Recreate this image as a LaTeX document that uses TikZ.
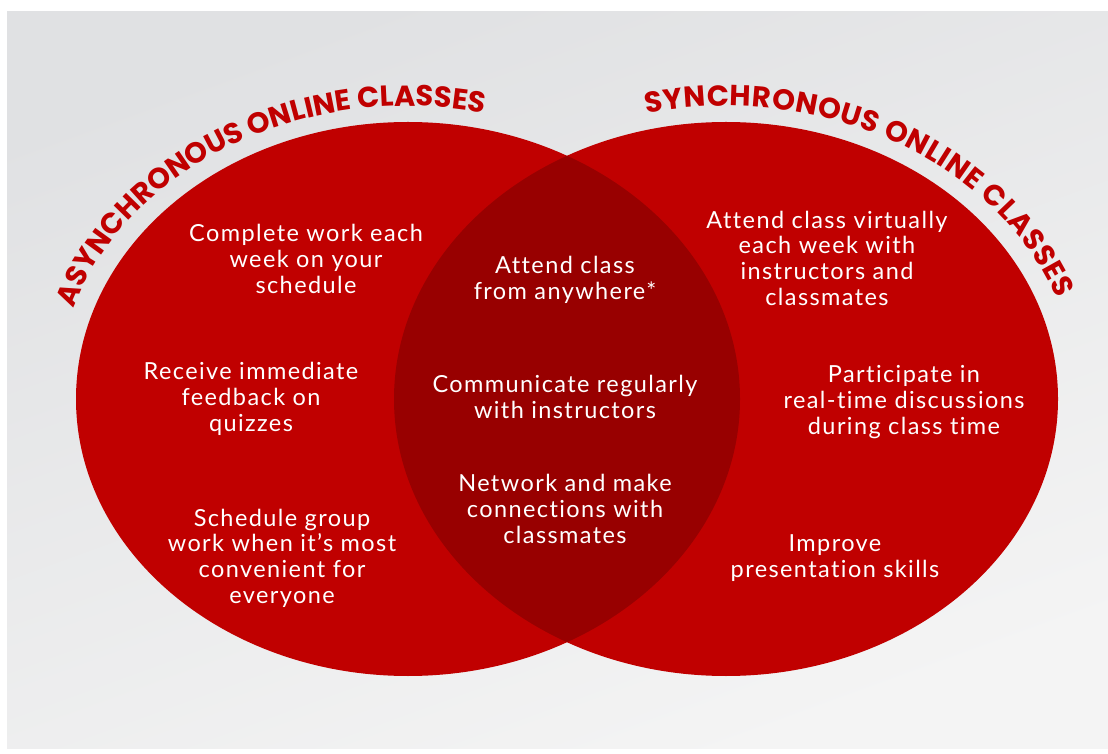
\documentclass[tikz,border=0pt]{standalone}
\usepackage{fontspec}
\setmainfont{Lato}
\newfontfamily\bodyfont{Lato}[LetterSpace=6, Ligatures=CommonOff]
\newfontfamily\headfont{Poppins}
\usetikzlibrary{decorations.text, calc}
\definecolor{vnred}{RGB}{192,0,0}
\definecolor{vndark}{RGB}{152,0,0}
\definecolor{vnbgtop}{RGB}{224,225,227}
\definecolor{vnbgbot}{RGB}{244,244,244}

\tikzset{
  blurb/.style={white, font=\bodyfont\fontsize{23.5}{25.7}\selectfont, align=center},
  arctitle/.style={decorate, decoration={text along path, text color=vnred,
      text align=fit to path, text={|\headfont\bfseries\fontsize{29}{29}\selectfont|#1}}},
}

\begin{document}
\begin{tikzpicture}[x=1pt, y=1pt]
% page + background
\fill[white] (0,0) rectangle (1108,753);
\shade[top color=vnbgtop, bottom color=vnbgbot, shading angle=20] (7,5) rectangle (1108,741);

% circles
\coordinate (lc) at (408,354);
\coordinate (rc) at (726,354);
\fill[vnred] (lc) ellipse [x radius=332, y radius=277];
\fill[vnred] (rc) ellipse [x radius=332, y radius=277];
\begin{scope}
  \clip (lc) ellipse [x radius=332, y radius=277];
  \fill[vndark] (rc) ellipse [x radius=332, y radius=277];
\end{scope}

% titles on arcs
\path[arctitle={ASYNCHRONOUS ONLINE CLASSES}]
  ($(lc)+(162:352pt and 293pt)$) arc[start angle=162, end angle=78, x radius=352pt, y radius=293pt];
\path[arctitle={SYNCHRONOUS ONLINE CLASSES}]
  ($(rc)+(103:352pt and 293pt)$) arc[start angle=103, end angle=20, x radius=352pt, y radius=293pt];

% asynchronous only
\node[blurb] (async1) at (306,494) {Complete work each\\week on your\\schedule};
\node[blurb] (async2) at (251,354) {Receive immediate\\feedback on\\quizzes};
\node[blurb] (async3) at (282,195) {Schedule group\\work when it’s most\\convenient for\\everyone};

% both
\node[blurb] (both1) at (565,473) {Attend class\\from anywhere*};
\node[blurb] (both2) at (565,356) {Communicate regularly\\with instructors};
\node[blurb] (both3) at (565,244) {Network and make\\connections with\\classmates};

% synchronous only
\node[blurb] (sync1) at (827,495) {Attend class virtually\\each week with\\instructors and\\classmates};
\node[blurb] (sync2) at (904,351) {Participate in\\real-time discussions\\during class time};
\node[blurb] (sync3) at (835,195) {Improve\\presentation skills};
\end{tikzpicture}
\end{document}
